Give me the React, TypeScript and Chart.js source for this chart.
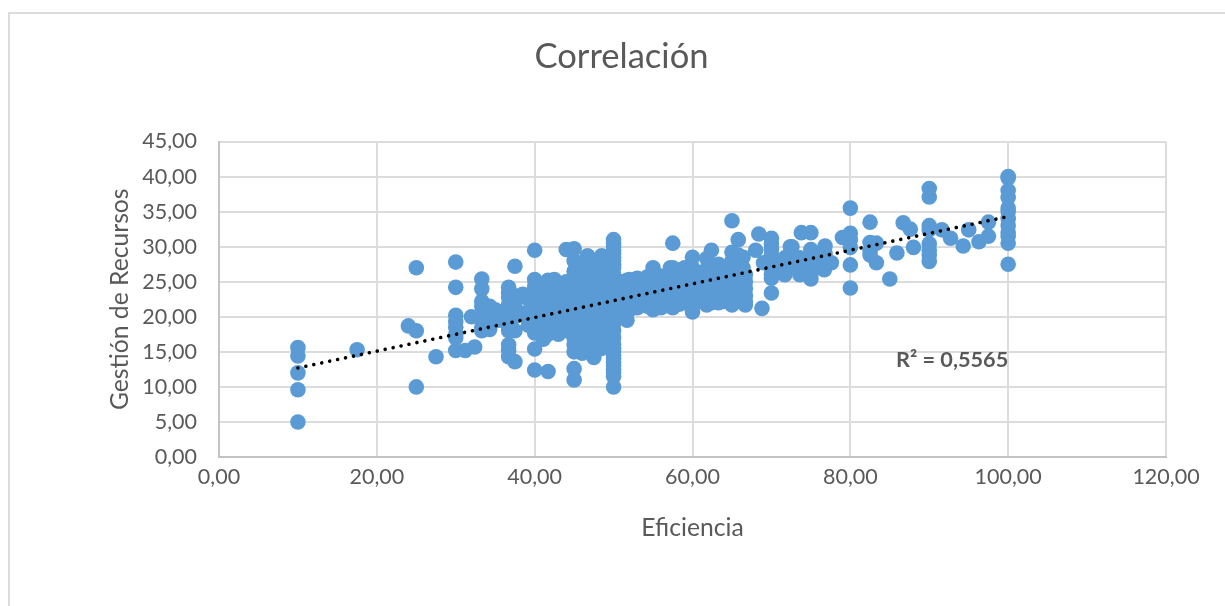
import React, { useEffect, useRef } from "react";
import { Chart, registerables } from "chart.js";

Chart.register(...registerables);

const titleText = "Correlación";
const xAxisTitle = "Eficiencia";
const yAxisTitle = "Gestión de Recursos";
const r2Label = "R² = 0,5565";
const r2Position = { x: 92.9, y: 13.8 };

const trendX = [10, 100];
const trendY = [12.7, 34.3];

const columnX = [
  10, 17.5, 24, 25, 27.5, 30, 31.2, 32, 32.4, 33.3, 34.3, 35, 35.5, 36.7, 37.5, 38.5, 39.2, 40, 41.1, 41.7, 42.5, 43, 44, 45, 46,
  46.7, 47.5, 48.5, 49, 50, 51, 51.7, 52, 53, 54.3, 55, 56, 57.2, 57.5, 58.3, 59, 60, 61, 61.8, 62.4, 63.3, 64, 65, 65.8,
  66.4, 66.7, 68, 68.4, 68.8, 69, 70, 71.7, 72.4, 72.6, 73.6, 73.8, 75, 76.7, 76.8, 77.6, 79, 80, 82.5, 83.3, 85, 85.9,
  86.7, 87.6, 88, 90, 91.6, 92.7, 94.3, 95, 96.3, 97.5, 100,
];

const columnY = [
  [15.6, 14.4, 12, 9.6, 5],
  [15.3],
  [18.7],
  [27, 18, 10],
  [14.3],
  [27.8, 24.2, 20.2, 19.3, 18.5, 17.5, 17, 15.2],
  [15.2],
  [20],
  [15.7],
  [25.4, 24, 22.2, 21.5, 20.5, 19.8, 18.5, 18],
  [21.5, 20, 19.2, 18.2],
  [21, 20],
  [20.5, 19.5],
  [24.2, 23.5, 22.8, 21.8, 20.8, 19.5, 18.5, 18, 16, 15.2, 14.3],
  [27.2, 23, 22, 20, 18, 13.6],
  [23.2, 20.5],
  [22.5, 20.5, 18.8],
  [29.5, 25.3, 24.3, 23, 22.2, 21.5, 21, 20, 19, 18, 17.7, 15.4, 12.4],
  [24.5, 23, 22, 21, 20, 19, 18, 16.8],
  [25.2, 24, 23, 22, 21, 20, 19, 18.2, 17.5, 12.2],
  [25.3, 24, 23, 22, 21, 20, 19, 18],
  [24.8, 23.5, 22, 21, 20, 19, 18, 17.5],
  [29.6, 25, 24, 23, 22, 21, 20, 19, 18],
  [29.7, 28, 26.5, 25.5, 24, 23, 22, 21, 20, 19, 18, 17, 16, 15, 12.6, 11],
  [27.5, 26, 25, 24, 23, 22, 21, 20, 19, 18, 17, 16, 14.8],
  [28.7, 27, 26, 25, 24, 23, 22, 21, 20, 19, 18, 17, 16.2, 15.5],
  [28, 27, 26, 25, 24, 23, 22, 21, 20, 19, 18, 17, 16, 15, 14.2],
  [28.7, 27, 26, 25, 24, 23, 22, 21, 20, 19, 18, 17, 16.2, 15.5],
  [28, 27, 26, 25, 24, 23, 22, 21, 20, 19, 18, 17, 16],
  [31, 30.5, 30, 29.5, 29, 28.5, 28, 27.5, 27, 26, 25, 24, 23, 22, 21, 20, 19, 18, 17, 16, 15.5, 15, 14.5, 14, 13.5, 13, 12.5, 12, 11.5, 10],
  [25, 24, 23, 22, 21],
  [19.5, 25.2, 24, 23, 22, 21],
  [25.3, 24, 23, 22, 21],
  [25.5, 24.5, 23.5, 22.5, 21.3],
  [25.7, 24.5, 23.5, 22.5, 21.5],
  [27, 25.5, 24.5, 23.5, 22.5, 21],
  [25.8, 24.5, 23.5, 22.5, 21.3],
  [27, 26, 25, 24, 23, 22],
  [30.5, 27, 26, 25, 24, 23, 22, 21.3],
  [26.2, 25, 24, 23, 21.8],
  [27, 26, 25, 24, 23, 22],
  [28.5, 27, 26, 25, 24, 23, 22, 20.7],
  [26, 25, 24, 23, 22.2],
  [28.3, 26.8, 25.5, 24.5, 23.5, 22.5, 21.7],
  [29.5, 26.5, 25.5, 24.5, 23.5, 22.5, 22],
  [27.5, 26.5, 25.5, 24.5, 23.5, 22.5, 22],
  [27, 26, 25, 24, 23, 22.2],
  [33.7, 29.2, 28, 27, 26, 25, 24, 23, 22.2, 21.7],
  [31, 28.8, 27.5, 26.5, 25.5, 24.5, 23.5, 22.5],
  [28.5, 27, 26, 25, 24, 23, 22],
  [26, 25, 24, 23, 22.2, 21.7],
  [29.5],
  [31.8],
  [21.2],
  [27.7],
  [31.2, 30.4, 29.6, 28.8, 28, 27, 26, 25.5, 23.4],
  [28.4, 27.4, 26.4, 26],
  [30, 29, 28, 27.5],
  [30, 28],
  [28.4, 27.4, 26.4, 26],
  [32],
  [32, 29.6, 28.8, 28, 27, 26, 25.4],
  [29, 28, 27, 26.7],
  [30.1, 29],
  [27.7],
  [31.3],
  [35.5, 31.9, 31, 29.9, 27.4, 24.1],
  [33.5, 30.6, 29.4, 28.8],
  [30.5, 27.7],
  [25.4],
  [29.1],
  [33.4],
  [32.5],
  [29.9],
  [38.3, 37.1, 33, 32.4, 30.4, 29.5, 28.8, 27.9],
  [32.4],
  [31.2],
  [30.1],
  [32.4],
  [30.7],
  [33.5, 31.5],
  [40, 39.8, 38, 37, 35.5, 35, 34, 33, 32, 31.5, 30.5, 27.5],
];

const xMax = 120;
const yMax = 45;
const xStep = 20;
const yStep = 5;

const TEXT = "#595959";
const GRID = "#dcdcdc";
const AXIS = "#c4c4c4";
const BLUE = "#5b9bd5";
const FONT = "Lato, sans-serif";

const comma = (v: number | string) => Number(v).toFixed(2).replace(".", ",");

const r2Plugin = {
  id: "r2Plugin",
  afterDatasetsDraw(chart: any) {
    const { ctx, scales } = chart;
    ctx.save();
    ctx.font = `bold 21.7px ${FONT}`;
    ctx.fillStyle = TEXT;
    ctx.textAlign = "center";
    ctx.textBaseline = "middle";
    ctx.fillText(r2Label, scales.x.getPixelForValue(r2Position.x), scales.y.getPixelForValue(r2Position.y));
    ctx.restore();
  },
};

export default function App() {
  const ref = useRef<HTMLCanvasElement | null>(null);
  useEffect(() => {
    if (!ref.current) return;
    const points = columnX.flatMap((x, i) => columnY[i].map((y) => ({ x, y })));
    const chart = new Chart(ref.current, {
      type: "scatter",
      data: {
        datasets: [
          {
            label: "Tendencia",
            data: trendX.map((x, i) => ({ x, y: trendY[i] })),
            showLine: true,
            borderColor: "#000000",
            borderWidth: 3.6,
            borderCapStyle: "round",
            borderDash: [0.01, 8.1],
            pointRadius: 0,
          },
          {
            label: "Gestión de Recursos",
            data: points,
            backgroundColor: BLUE,
            borderColor: BLUE,
            borderWidth: 0,
            pointRadius: 7.8,
          },
        ],
      },
      options: {
        responsive: false,
        animation: false,
        layout: { padding: { left: 77, right: 59, top: 0, bottom: 63 } },
        plugins: {
          legend: { display: false },
          tooltip: { enabled: false },
          title: {
            display: true,
            text: titleText,
            color: TEXT,
            font: { family: FONT, size: 34.6, weight: "normal" },
            padding: { top: 36, bottom: 64 },
          },
        },
        scales: {
          x: {
            type: "linear",
            min: 0,
            max: xMax,
            afterFit: (s: any) => { s.height = 86; },
            ticks: { stepSize: xStep, color: TEXT, font: { family: FONT, size: 21.5 }, padding: 7, callback: comma, maxRotation: 0 },
            grid: { color: GRID, lineWidth: 2, drawTicks: false },
            border: { color: AXIS, width: 2 },
            title: { display: true, text: xAxisTitle, color: TEXT, font: { family: FONT, size: 24.7 }, padding: 0 },
          },
          y: {
            type: "linear",
            min: 0,
            max: yMax,
            afterFit: (s: any) => { s.width = 142; },
            ticks: { stepSize: yStep, color: TEXT, font: { family: FONT, size: 21.5 }, padding: 22, callback: comma },
            grid: { color: GRID, lineWidth: 2, drawTicks: false },
            border: { color: AXIS, width: 2 },
            title: { display: true, text: yAxisTitle, color: TEXT, font: { family: FONT, size: 24.7 }, padding: { top: 28, bottom: 0 } },
          },
        },
      },
      plugins: [r2Plugin],
    } as any);
    return () => chart.destroy();
  }, []);
  return (
    <div style={{ position: "fixed", inset: 0, background: "#fff", overflow: "hidden" }}>
      <div style={{ position: "absolute", left: 8, top: 12, right: 0, bottom: 0, borderLeft: `2px solid ${GRID}`, borderTop: `2px solid ${GRID}` }} />
      <canvas ref={ref} width={1225} height={606} style={{ position: "absolute", left: 0, top: 0, display: "block" }} />
    </div>
  );
}
